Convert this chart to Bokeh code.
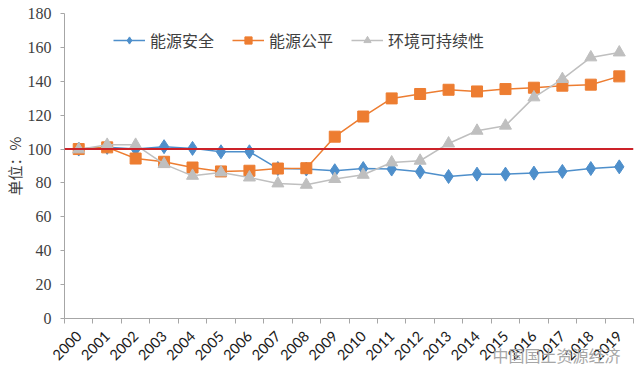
from bokeh.plotting import figure
from bokeh.models import Range1d, FixedTicker, Span, Legend, LegendItem, Title
from bokeh.embed import file_html
from bokeh.resources import INLINE

years = [str(y) for y in range(2000, 2020)]
energy_security = [100, 101, 100, 101.4, 100.4, 98.4, 98.4, 88.5, 88.2, 87.2,
                   88.5, 88.2, 86.6, 83.8, 85.2, 85.2, 85.8, 86.8, 88.5, 89.5]
energy_equity = [100, 101, 94.4, 92.5, 89.1, 86.8, 87.2, 88.5, 88.7, 107.3,
                 119.2, 129.9, 132.5, 135.0, 134.0, 135.4, 136.2, 137.4, 138.0, 142.9]
env_sustain = [99.8, 102.5, 102.5, 91.1, 84.2, 86.2, 83.2, 79.7, 78.9, 82.3,
               84.8, 92.1, 93.1, 103.3, 110.8, 113.8, 130.5, 141.3, 154.1, 157.0]
baseline = 100
y_ticks = [0, 20, 40, 60, 80, 100, 120, 140, 160, 180]
series_names = ["能源安全", "能源公平", "环境可持续性"]
watermark = "中国国土资源经济"

xs = [i + 0.5 for i in range(len(years))]

p = figure(width=634, height=378, output_backend="svg", toolbar_location=None,
           x_range=Range1d(0, len(years)), y_range=Range1d(0, 180),
           min_border_left=64, min_border_right=1, min_border_top=13, min_border_bottom=60)
p.outline_line_color = None
p.xgrid.visible = False
p.ygrid.visible = False

axis_col = "#A6A6A6"
# x axis
xa = p.xaxis[0]
xa.ticker = FixedTicker(ticks=xs, minor_ticks=list(range(len(years) + 1)))
xa.major_label_overrides = {x: y for x, y in zip(xs, years)}
xa.major_label_orientation = 0.785398
xa.major_tick_out = 0
xa.major_tick_in = 0
xa.minor_tick_out = 5
xa.minor_tick_in = 0
xa.minor_tick_line_color = axis_col
xa.axis_line_color = axis_col
xa.major_label_text_font = "Lato"
xa.major_label_text_font_size = "14.5px"
xa.major_label_text_color = "#1a1a1a"
xa.major_label_standoff = 10

# y axis
ya = p.yaxis[0]
ya.ticker = FixedTicker(ticks=y_ticks)
ya.major_tick_out = 4
ya.major_tick_in = 0
ya.minor_tick_out = 0
ya.minor_tick_in = 0
ya.major_tick_line_color = axis_col
ya.axis_line_color = axis_col
ya.major_label_text_font = "Liberation Serif"
ya.major_label_text_font_size = "16px"
ya.major_label_text_color = "#404040"
ya.major_label_standoff = 9
ya.axis_label = "单位：%"
ya.axis_label_text_font = "Noto Sans CJK SC"
ya.axis_label_text_font_size = "15px"
ya.axis_label_text_font_style = "normal"
ya.axis_label_text_color = "#404040"
ya.axis_label_standoff = 0

blue = "#4E8FCB"
orange = "#ED7D31"
gray = "#BFBFBF"
red = "#CC2229"

l1 = p.line(xs, energy_security, line_color=blue, line_width=1.5)
m1 = p.scatter(xs, energy_security, marker="diamond", size=14, fill_color=blue, line_color=blue)
l2 = p.line(xs, energy_equity, line_color=orange, line_width=1.5)
m2 = p.scatter(xs, energy_equity, marker="square", size=11, fill_color=orange, line_color=orange)
l3 = p.line(xs, env_sustain, line_color=gray, line_width=1.5)
m3 = p.scatter(xs, env_sustain, marker="triangle", size=12, fill_color=gray, line_color=gray)

p.add_layout(Span(location=baseline, dimension="width", line_color=red, line_width=2))

legend = Legend(items=[
    LegendItem(label=series_names[0], renderers=[l1, m1]),
    LegendItem(label=series_names[1], renderers=[l2, m2]),
    LegendItem(label=series_names[2], renderers=[l3, m3]),
], orientation="horizontal", location=(49, 266))
legend.background_fill_alpha = 0
legend.border_line_color = None
legend.padding = 0
legend.margin = 0
legend.spacing = 18
legend.glyph_width = 32
legend.glyph_height = 18
legend.label_standoff = 5
legend.label_text_font = "Noto Sans CJK SC"
legend.label_text_font_size = "16px"
legend.label_text_color = "#404040"
p.add_layout(legend, "center")

wm = Title(text=watermark, align="right", vertical_align="top", offset=13, standoff=-52,
           text_font="Noto Sans CJK SC", text_font_size="16px", text_font_style="normal",
           text_color="#a6a6a6")
p.add_layout(wm, "below")

open("out.html", "w").write(file_html(p, INLINE))
